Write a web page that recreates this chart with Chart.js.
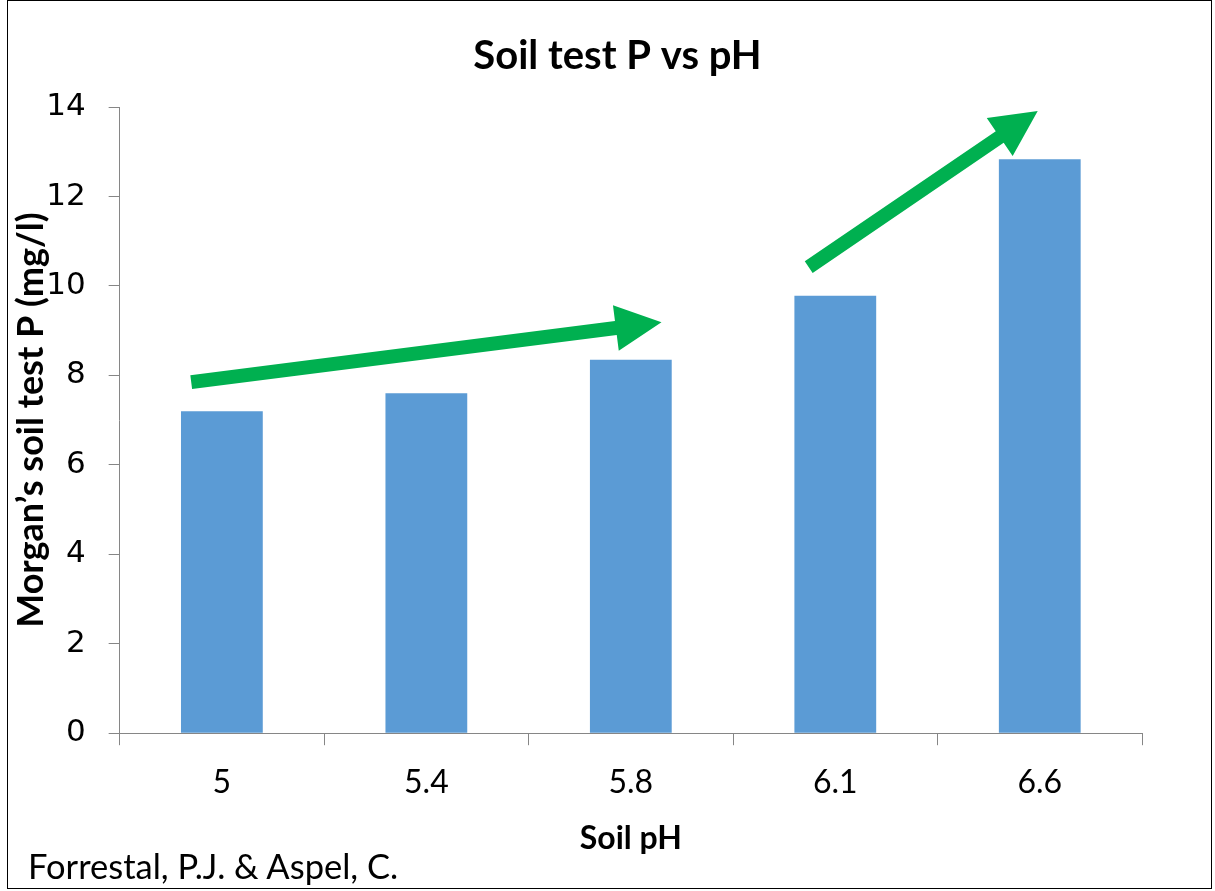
<!DOCTYPE html>
<html>
<head>
<meta charset="utf-8">
<script src="https://cdn.jsdelivr.net/npm/chart.js@4/dist/chart.umd.min.js"></script>
<style>
  html, body { margin: 0; padding: 0; background: #fff; }
  #wrap { position: relative; width: 1215px; height: 891px; }
  #frame { position: absolute; left: 7px; top: 0; width: 1205px; height: 889px; border: 1px solid #000; box-sizing: border-box; pointer-events: none; }
  #source { position: absolute; left: 28px; top: 845px; font-family: Lato, 'Open Sans', sans-serif; font-size: 34.5px; color: #000; }
</style>
</head>
<body>
<div id="wrap">
  <canvas id="myChart" width="1215" height="891"></canvas>
  <div id="frame"></div>
  <div id="source">Forrestal, P.J. &amp; Aspel, C.</div>
</div>
<script>
'use strict'
// soil pH categories and Morgan's P values
const phLabels = ['5', '5.4', '5.8', '6.1', '6.6'];
const soilP = [7.2, 7.6, 8.35, 9.78, 12.83];
const yTicks = [0, 2, 4, 6, 8, 10, 12, 14];
const chartTitle = 'Soil test P vs pH';

// trend arrows, given as [category index, value] pairs (tail -> tip)
const arrowTails = [[-0.15, 7.85], [2.87, 10.42]];
const arrowTips = [[2.15, 9.19], [3.99, 13.91]];

const axisGrey = '#868686';

// draws the green trend arrows through the chart scales, plus the title
const arrowPlugin = {
    id: 'trendArrows',
    afterDatasetsDraw(chart){
        const ctx = chart.ctx;
        const xs = chart.scales.x;
        const ys = chart.scales.y;
        ctx.save();
        ctx.fillStyle = '#00b050';
        for (let i = 0; i < arrowTails.length; i++){
            const x0 = xs.getPixelForValue(arrowTails[i][0]);
            const y0 = ys.getPixelForValue(arrowTails[i][1]);
            const x1 = xs.getPixelForValue(arrowTips[i][0]);
            const y1 = ys.getPixelForValue(arrowTips[i][1]);
            const ang = Math.atan2(y1 - y0, x1 - x0);
            const len = Math.hypot(x1 - x0, y1 - y0);
            const shaft = 7, headLen = 46, headW = 23;
            ctx.save();
            ctx.translate(x0, y0);
            ctx.rotate(ang);
            ctx.beginPath();
            ctx.moveTo(0, -shaft);
            ctx.lineTo(len - headLen, -shaft);
            ctx.lineTo(len - headLen, -headW);
            ctx.lineTo(len, 0);
            ctx.lineTo(len - headLen, headW);
            ctx.lineTo(len - headLen, shaft);
            ctx.lineTo(0, shaft);
            ctx.closePath();
            ctx.fill();
            ctx.restore();
        }
        // title sits a bit right of the canvas centre, like the original
        ctx.fillStyle = '#000';
        ctx.font = 'bold 40px Lato, sans-serif';
        ctx.textAlign = 'center';
        ctx.textBaseline = 'middle';
        ctx.fillText(chartTitle, chart.width / 2 + 10, 56);
        ctx.restore();
    }
};

const config = {
    type: 'bar',
    data: {
        labels: phLabels,
        datasets: [{
            label: 'Soil test P',
            data: soilP,
            backgroundColor: '#5b9bd5',
            borderWidth: 0,
            barPercentage: 0.4,
            categoryPercentage: 1.0
        }]
    },
    options: {
        responsive: false,
        animation: false,
        layout: { padding: { top: 107, right: 73, bottom: 29, left: 6 } },
        plugins: {
            legend: { display: false },
            tooltip: { enabled: false },
            title: { display: false }
        },
        scales: {
            x: {
                grid: { display: true, offset: true, drawOnChartArea: false, color: axisGrey, tickLength: 12 },
                border: { color: axisGrey },
                ticks: { color: '#000', padding: 18, font: { family: 'Lato, sans-serif', size: 32 } },
                title: {
                    display: true,
                    text: 'Soil pH',
                    color: '#000',
                    font: { family: 'Lato, sans-serif', size: 32, weight: 'bold' },
                    padding: { top: 0 }
                }
            },
            y: {
                min: 0,
                max: 14,
                afterBuildTicks: (axis) => { axis.ticks = yTicks.map(v => ({ value: v })); },
                grid: { display: true, drawOnChartArea: false, color: axisGrey, tickLength: 11 },
                border: { color: axisGrey },
                ticks: { color: '#000', padding: 23, font: { family: 'DejaVu Sans, sans-serif', size: 31 } },
                title: {
                    display: true,
                    text: 'Morgan’s soil test P (mg/l)',
                    color: '#000',
                    font: { family: 'Lato, sans-serif', size: 36, weight: 'bold' },
                    padding: { bottom: -30 }
                }
            }
        }
    },
    plugins: [arrowPlugin]
};

let myChart = new Chart(document.getElementById('myChart'), config);
</script>
</body>
</html>
